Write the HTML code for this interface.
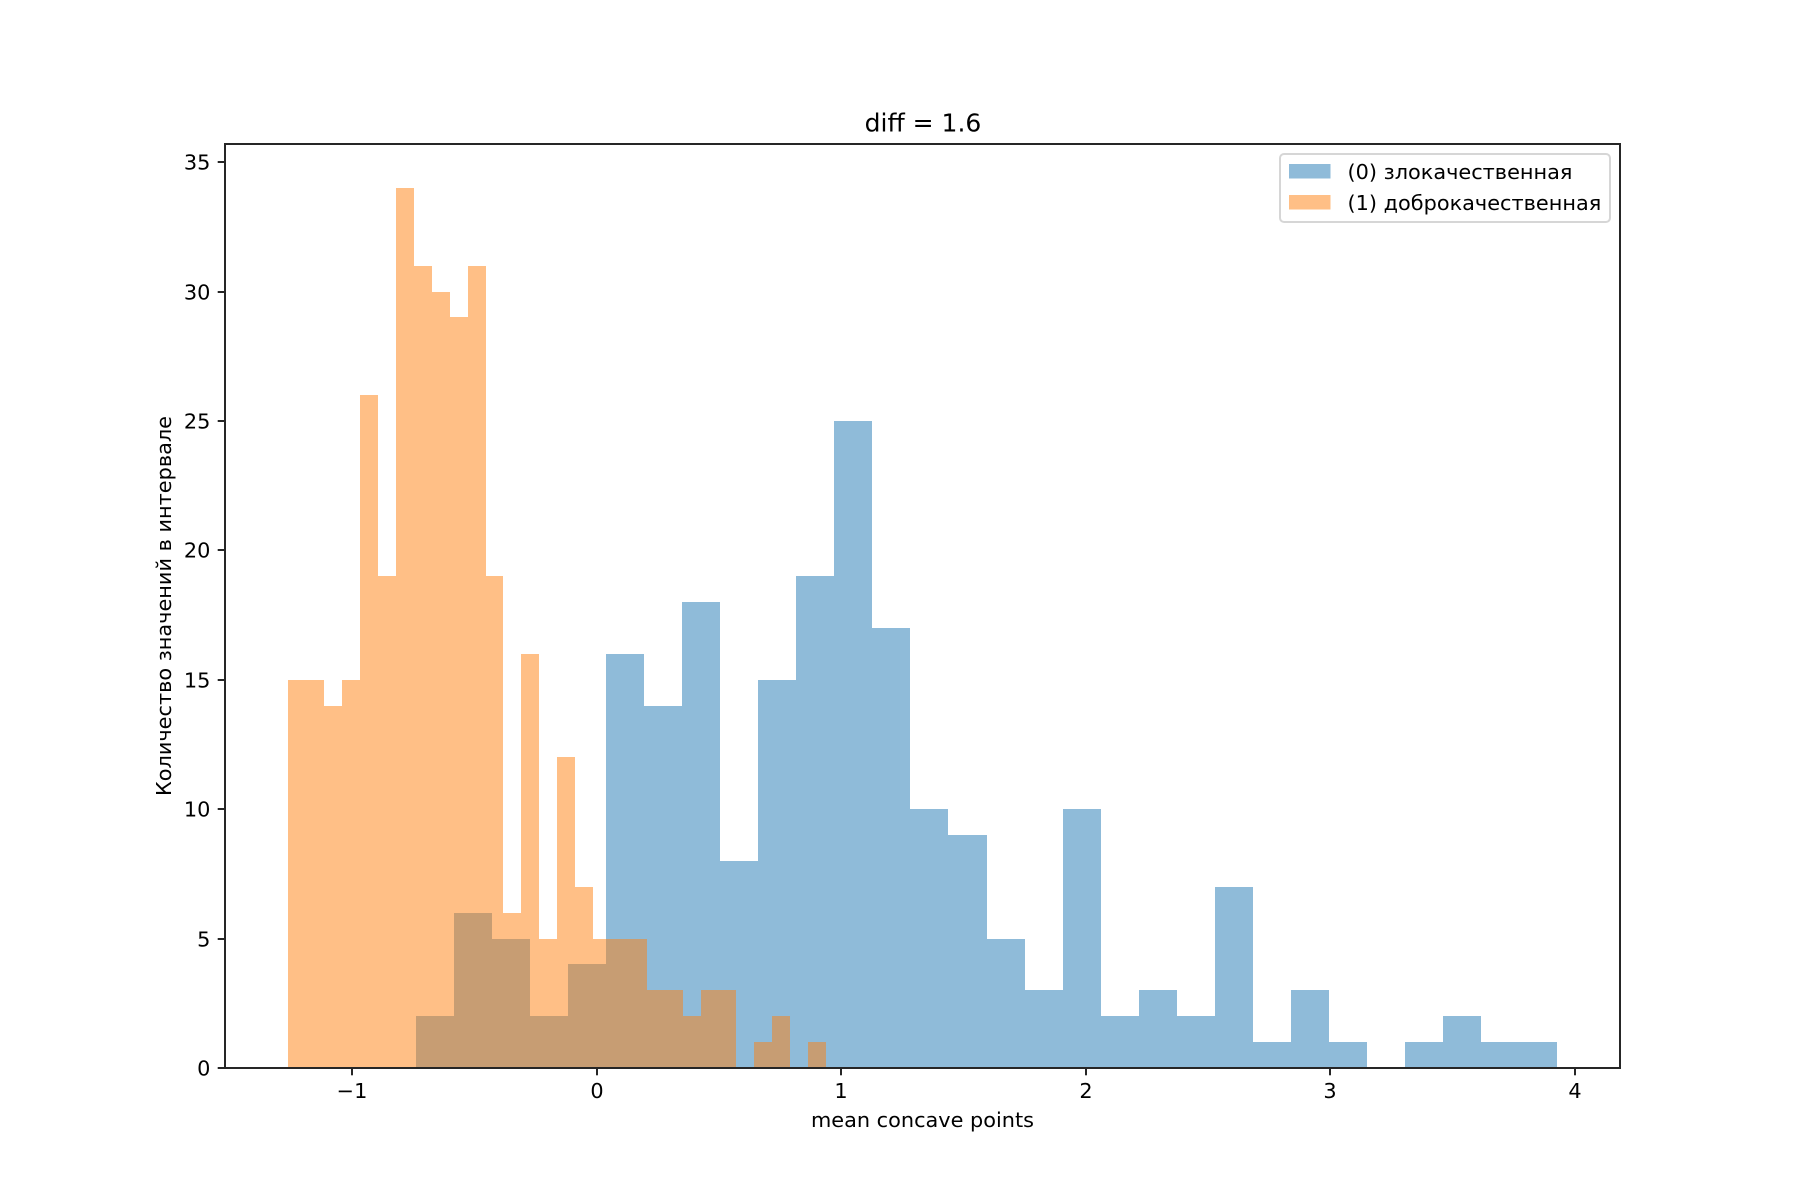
<!DOCTYPE html>
<html lang="ru">
<head>
<meta charset="utf-8">
<title>diff = 1.6</title>
<style>
  html, body { margin: 0; padding: 0; background: #fff; }
  svg { display: block; }
  text { font-family: "DejaVu Sans", "Liberation Sans", sans-serif; fill: #000; }
</style>
</head>
<body>
<svg id="chart" xmlns="http://www.w3.org/2000/svg" width="1800" height="1200" viewBox="0 0 1800 1200">
  <rect x="0" y="0" width="1800" height="1200" fill="#fff"/>
  <g id="bars"></g>
  <g id="ticks"></g>
  <rect x="225" y="144" width="1395" height="924" fill="none" stroke="#262626" stroke-width="2"/>
  <text x="923" y="131.5" font-size="25" text-anchor="middle">diff = 1.6</text>
  <text x="922.5" y="1127" font-size="20.83" text-anchor="middle">mean concave points</text>
  <text transform="translate(171,606) rotate(-90)" font-size="20.83" text-anchor="middle">Количество значений в интервале</text>
  <g>
    <rect x="1280" y="154" width="330" height="68" rx="4" ry="4" fill="#fff" fill-opacity="0.8" stroke="#d6d6d6" stroke-width="2"/>
    <rect x="1289" y="164" width="41.67" height="14.6" fill="#1f77b4" fill-opacity="0.5" shape-rendering="crispEdges"/>
    <text x="1347.5" y="179" font-size="20.83">(0) злокачественная</text>
    <rect x="1289" y="195" width="41.67" height="14.6" fill="#ff7f0e" fill-opacity="0.5" shape-rendering="crispEdges"/>
    <text x="1347.5" y="210" font-size="20.83">(1) доброкачественная</text>
  </g>
</svg>
<script>
const blueCounts = [2,6,5,2,4,16,14,18,8,15,19,25,17,10,9,5,3,10,2,3,2,7,1,3,1,0,1,2,1,1];
const orangeCounts = [15,15,14,15,26,19,34,31,30,29,31,19,6,16,5,12,7,5,5,5,3,3,2,3,3,0,1,2,0,1];
const blueRange = [-0.7384, 3.9265];
const orangeRange = [-1.26, 0.938];
const xTicks = [-1,0,1,2,3,4];
const xTickLabels = ['\u22121','0','1','2','3','4'];
const yTicks = [0,5,10,15,20,25,30,35];
const yTickLabels = ['0','5','10','15','20','25','30','35'];
const xLimits = [-1.5193, 4.184];
const yLimits = [0, 35.7];

const plotLeft = 225, plotRight = 1620, plotTop = 144, plotBottom = 1068;
const NS = 'http://www.w3.org/2000/svg';
function xScale(v) { return plotLeft + (v - xLimits[0]) / (xLimits[1] - xLimits[0]) * (plotRight - plotLeft); }
function yScale(v) { return plotBottom - (v - yLimits[0]) / (yLimits[1] - yLimits[0]) * (plotBottom - plotTop); }

function drawSeries(counts, range, color, name) {
  const group = document.getElementById('bars');
  const step = (range[1] - range[0]) / counts.length;
  counts.forEach(function (c, i) {
    if (c === 0) return;
    const x0 = Math.round(xScale(range[0] + i * step));
    const x1 = Math.round(xScale(range[0] + (i + 1) * step));
    const y0 = Math.round(yScale(c));
    const r = document.createElementNS(NS, 'rect');
    r.setAttribute('x', x0);
    r.setAttribute('y', y0);
    r.setAttribute('width', x1 - x0);
    r.setAttribute('height', Math.round(yScale(0)) - y0);
    r.setAttribute('fill', color);
    r.setAttribute('fill-opacity', '0.5');
    r.setAttribute('shape-rendering', 'crispEdges');
    
    
    group.appendChild(r);
  });
}
drawSeries(blueCounts, blueRange, '#1f77b4', 'malignant');
drawSeries(orangeCounts, orangeRange, '#ff7f0e', 'benign');

const tickGroup = document.getElementById('ticks');
xTicks.forEach(function (v, i) {
  const px = Math.round(xScale(v));
  const l = document.createElementNS(NS, 'rect');
  l.setAttribute('x', px - 1);
  l.setAttribute('y', plotBottom);
  l.setAttribute('width', 2);
  l.setAttribute('height', 7.3);
  l.setAttribute('fill', '#262626');
  
  
  tickGroup.appendChild(l);
  const t = document.createElementNS(NS, 'text');
  t.setAttribute('x', px);
  t.setAttribute('y', 1098);
  t.setAttribute('font-size', '20.83');
  t.setAttribute('text-anchor', 'middle');
  
  
  t.textContent = xTickLabels[i];
  tickGroup.appendChild(t);
});
yTicks.forEach(function (v, i) {
  const py = Math.round(yScale(v));
  const l = document.createElementNS(NS, 'rect');
  l.setAttribute('x', plotLeft - 7.3);
  l.setAttribute('y', py - 1);
  l.setAttribute('width', 7.3);
  l.setAttribute('height', 2);
  l.setAttribute('fill', '#262626');
  
  
  tickGroup.appendChild(l);
  const t = document.createElementNS(NS, 'text');
  t.setAttribute('x', 210.4);
  t.setAttribute('y', py + 7.6);
  t.setAttribute('font-size', '20.83');
  t.setAttribute('text-anchor', 'end');
  
  
  t.textContent = yTickLabels[i];
  tickGroup.appendChild(t);
});
</script>
</body>
</html>
